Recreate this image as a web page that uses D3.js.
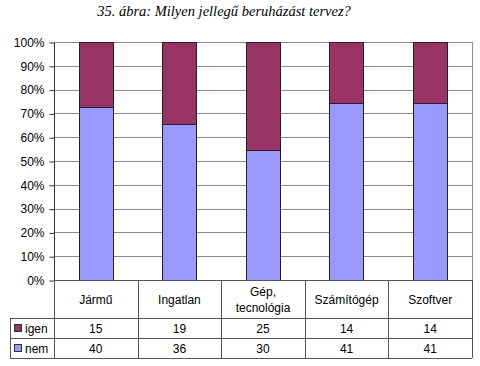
<!DOCTYPE html>
<html>
<head>
<meta charset="utf-8">
<script src="https://cdn.jsdelivr.net/npm/d3@7"></script>
<style>
  body { margin: 0; background: #fff; }
  text { font-family: Arial, "Liberation Sans", sans-serif; }
</style>
</head>
<body>
<svg width="480" height="366"></svg>
<script>
// data
var categories = ["Jármű", "Ingatlan", "Gép,\ntecnológia", "Számítógép", "Szoftver"];
var igen = [15, 19, 25, 14, 14];
var nem = [40, 36, 30, 41, 41];
var seriesNames = ["nem", "igen"];
var yTicks = [0, 0.1, 0.2, 0.3, 0.4, 0.5, 0.6, 0.7, 0.8, 0.9, 1];

var colors = { igen: "#993366", nem: "#9999ff" };

var svg = d3.select("svg");

// note: "top" is a window property, so use plotTop etc.
var plotLeft = 54, plotRight = 472, plotTop = 42, plotBottom = 280;
var tableLeft = 10, rowCat = 318, rowIgen = 338, rowNem = 358;

var rows = categories.map(function (c, i) {
    return { cat: c, igen: igen[i], nem: nem[i] };
});

var x = d3.scaleBand()
    .domain(categories)
    .range([plotLeft, plotRight])
    .paddingInner(0)
    .paddingOuter(0);

var y = d3.scaleLinear()
    .domain([0, 1])
    .range([plotBottom, plotTop]);

var stack = d3.stack()
    .keys(seriesNames)
    .offset(d3.stackOffsetExpand);
var stacked = stack(rows);

// title
svg.append("text")
    .attr("x", 224)
    .attr("y", 16)
    .attr("text-anchor", "middle")
    .style("font-family", "'Liberation Serif', 'DejaVu Serif', serif")
    .style("font-style", "italic")
    .style("font-size", "14.5px")
    .text("35. ábra: Milyen jellegű beruházást tervez?");

// gridlines
svg.append("g")
    .selectAll("line")
    .data(yTicks)
    .enter()
    .append("line")
    .attr("x1", plotLeft)
    .attr("x2", plotRight)
    .attr("y1", function (d) { return Math.round(y(d)) + 0.5; })
    .attr("y2", function (d) { return Math.round(y(d)) + 0.5; })
    .attr("stroke", "#8c8c8c")
    .attr("stroke-width", 1);

// right border of plot
svg.append("line")
    .attr("x1", plotRight + 0.5).attr("x2", plotRight + 0.5)
    .attr("y1", plotTop).attr("y2", plotBottom)
    .attr("stroke", "#8c8c8c");

// bars
var barW = x.bandwidth() * 0.41;
svg.append("g")
    .selectAll("g")
    .data(stacked)
    .enter()
    .append("g")
    .attr("fill", function (s) { return colors[s.key]; })
    .selectAll("rect")
    .data(function (s) { return s; })
    .enter()
    .append("rect")
    .attr("x", function (d) { return Math.round(x(d.data.cat) + (x.bandwidth() - barW) / 2) + 0.5; })
    .attr("width", Math.round(barW))
    .attr("y", function (d) { return Math.round(y(d[1])) + 0.5; })
    .attr("height", function (d) { return Math.round(y(d[0])) - Math.round(y(d[1])); })
    .attr("stroke", "#222")
    .attr("stroke-width", 1);

// y axis
var yAxis = d3.axisLeft(y)
    .tickValues(yTicks)
    .tickFormat(d3.format(".0%"))
    .tickSize(5)
    .tickPadding(5);

var gy = svg.append("g")
    .attr("transform", "translate(" + (plotLeft + 0.5) + ",0.5)")
    .call(yAxis);
gy.select(".domain").attr("stroke", "#333").attr("d", "M0," + plotTop + "V" + plotBottom);
gy.selectAll(".tick line").attr("stroke", "#333");
gy.selectAll(".tick text")
    .style("font-size", "12px")
    .style("font-family", "Arial, 'Liberation Sans', sans-serif")
    .attr("fill", "#000");

// data table
var table = svg.append("g").attr("stroke", "#555").attr("stroke-width", 1);
// horizontal lines
table.append("line").attr("x1", plotLeft).attr("x2", plotRight).attr("y1", plotBottom + 0.5).attr("y2", plotBottom + 0.5);
[rowCat, rowIgen, rowNem].forEach(function (ry) {
    table.append("line").attr("x1", tableLeft).attr("x2", plotRight).attr("y1", ry + 0.5).attr("y2", ry + 0.5);
});
// vertical lines
table.append("line").attr("x1", tableLeft + 0.5).attr("x2", tableLeft + 0.5).attr("y1", rowCat).attr("y2", rowNem);
table.selectAll("line.v")
    .data(categories.concat(["end"]))
    .enter()
    .append("line")
    .attr("class", "v")
    .attr("x1", function (d, i) { return Math.round(i < categories.length ? x(d) : plotRight) + 0.5; })
    .attr("x2", function (d, i) { return Math.round(i < categories.length ? x(d) : plotRight) + 0.5; })
    .attr("y1", plotBottom)
    .attr("y2", rowNem);

// category labels
var catText = svg.append("g")
    .selectAll("text")
    .data(categories)
    .enter()
    .append("text")
    .attr("x", function (d) { return x(d) + x.bandwidth() / 2; })
    .attr("text-anchor", "middle")
    .style("font-size", "12px")
    .attr("fill", "#000");
catText.each(function (d) {
    var lines = d.split("\n");
    var sel = d3.select(this);
    var cy = (plotBottom + rowCat) / 2 + 5;
    lines.forEach(function (l, i) {
        sel.append("tspan")
            .attr("x", x(d) + x.bandwidth() / 2)
            .attr("y", cy + (i - (lines.length - 1) / 2) * 16)
            .text(l);
    });
});

// value rows
var valueRows = [
    { key: "igen", values: igen, yc: (rowCat + rowIgen) / 2 },
    { key: "nem", values: nem, yc: (rowIgen + rowNem) / 2 }
];
valueRows.forEach(function (r) {
    svg.append("rect")
        .attr("x", 14.5)
        .attr("y", Math.round(r.yc - 4) + 0.5)
        .attr("width", 7)
        .attr("height", 7)
        .attr("fill", colors[r.key])
        .attr("stroke", "#333");
    svg.append("text")
        .attr("x", 25)
        .attr("y", r.yc + 4.5)
        .style("font-size", "12px")
        .text(r.key);
    svg.append("g")
        .selectAll("text")
        .data(r.values)
        .enter()
        .append("text")
        .attr("x", function (d, i) { return x(categories[i]) + x.bandwidth() / 2; })
        .attr("y", r.yc + 4.5)
        .attr("text-anchor", "middle")
        .style("font-size", "12px")
        .text(function (d) { return d; });
});
</script>
</body>
</html>
